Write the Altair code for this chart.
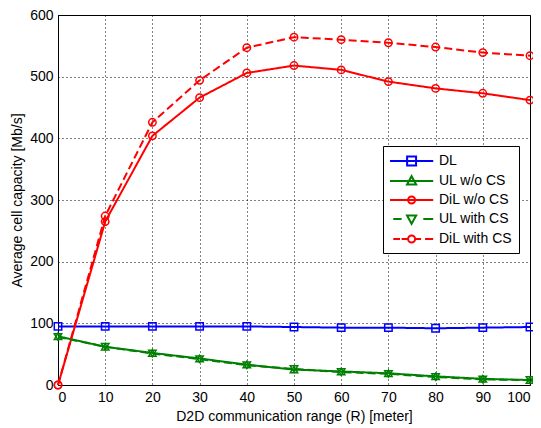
import altair as alt
import pandas as pd

# ---- data ----
ranges = [0, 10, 20, 30, 40, 50, 60, 70, 80, 90, 100]
series_names = ["DL", "UL w/o CS", "DiL w/o CS", "UL with CS", "DiL with CS"]
dl = [95, 95, 95, 95, 95, 94, 93, 93, 92, 93, 94]
ul_wo_cs = [79, 62, 52, 43, 33, 25, 22, 19, 14, 10, 8]
dil_wo_cs = [0, 265, 404, 466, 506, 518, 511, 492, 481, 473, 462]
ul_with_cs = [78, 62, 51, 42, 32, 26, 21, 18, 13, 9, 8]
dil_with_cs = [0, 274, 426, 494, 547, 564, 560, 555, 548, 539, 534]
x_ticks = list(range(0, 101, 10))
y_ticks = list(range(0, 601, 100))

# ---- styles ----
colors = ["#0000ff", "#008000", "#ff0000", "#008000", "#ff0000"]
dashes = [[1, 0], [1, 0], [1, 0], [8, 4], [8, 4]]
markers = ["square", "triangle-up", "circle", "triangle-down", "circle"]
# legend symbols: a line segment with the marker, in units of 8 px
circ = "M2.14,0A0.44,0.44 0 1,1 1.26,0A0.44,0.44 0 1,1 2.14,0Z"
legend_paths = [
    "M-1,0H4.4M1.14,-0.56H2.26V0.56H1.14Z",
    "M-1,0H4.4M1.7,-0.6L2.27,0.45L1.13,0.45Z",
    "M-1,0H4.4" + circ,
    "M-0.59,0H0.45M3.16,0H4.4M1.7,0.6L2.27,-0.45L1.13,-0.45Z",
    "M-0.59,0H0.25M0.45,0H1.2M2.2,0H2.88M3.38,0H4.4" + circ,
]

values = [dl, ul_wo_cs, dil_wo_cs, ul_with_cs, dil_with_cs]
rows = []
for name, vals in zip(series_names, values):
    for r, v in zip(ranges, vals):
        rows.append({"R": r, "cap": v, "series": name})
df = pd.DataFrame(rows)

FONT = "Liberation Sans"

x_enc = alt.X(
    "R:Q",
    scale=alt.Scale(domain=[0, 100], nice=False),
    axis=alt.Axis(
        values=x_ticks, title="D2D communication range (R) [meter]",
        grid=True, gridDash=[1, 3], gridColor="black", gridOpacity=1,
        ticks=False, labelPadding=5, titlePadding=5,
    ),
)
y_enc = alt.Y(
    "cap:Q",
    scale=alt.Scale(domain=[0, 600], nice=False),
    axis=alt.Axis(
        values=y_ticks, title="Average cell capacity [Mb/s]",
        grid=True, gridDash=[1, 3], gridColor="black", gridOpacity=1,
        ticks=False, labelPadding=5, titlePadding=5,
    ),
)

base = alt.Chart(df)

line_layers = []
marker_layers = []
for name, col, mk, dash in zip(series_names, colors, markers, dashes):
    sub = base.transform_filter(alt.datum.series == name)
    line_layers.append(
        sub.mark_line(strokeWidth=2, color=col, strokeDash=dash).encode(x=x_enc, y=y_enc)
    )
    marker_layers.append(
        sub.mark_point(shape=mk, filled=False, size=55, strokeWidth=1.5, color=col, opacity=1)
        .encode(x=x_enc, y=y_enc)
    )

leg = alt.Legend(
    title=None, orient="none", legendX=325, legendY=131,
    fillColor="white", strokeColor="black", padding=6,
    symbolSize=256, symbolStrokeWidth=2, symbolOpacity=1,
    labelFont=FONT, labelFontSize=14, labelColor="black",
    labelOffset=32, rowPadding=2, symbolFillColor="transparent",
)

# legend-only layer: no marks are drawn (filter keeps no rows), the legend
# entries come from the explicit scale domains
legend_layer = base.transform_filter("datum.R < 0").mark_point(filled=False, strokeWidth=2).encode(
    x=x_enc, y=y_enc,
    color=alt.Color("series:N", scale=alt.Scale(domain=series_names, range=colors), legend=leg, sort=series_names),
    shape=alt.Shape("series:N", scale=alt.Scale(domain=series_names, range=legend_paths), legend=leg, sort=series_names),
)

chart = alt.layer(*line_layers, *marker_layers, legend_layer).properties(
    width=472, height=370,
    autosize=alt.AutoSizeParams(type="none"),
    padding={"left": 50, "top": 7, "right": 3, "bottom": 40},
).configure(
    background="white"
).configure_view(
    stroke="black", strokeWidth=1
).configure_axis(
    labelFont=FONT, labelFontSize=14, labelColor="black",
    titleFont=FONT, titleFontSize=14, titleColor="black", titleFontWeight="normal",
    domainColor="black",
)

chart.save("out.html", embed_options={"renderer": "svg", "actions": False})
